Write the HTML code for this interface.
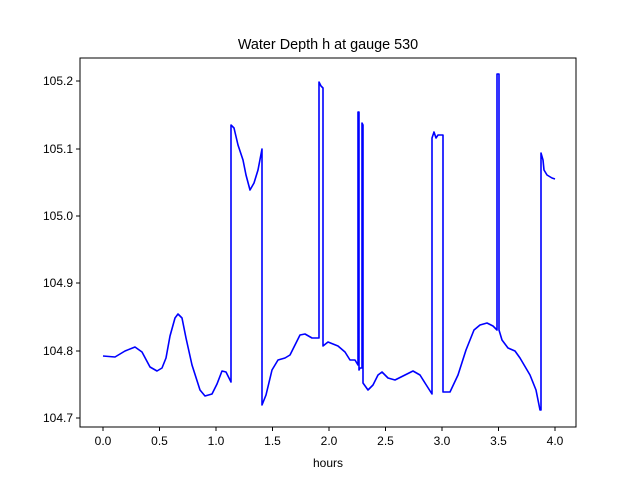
<!DOCTYPE html>
<html><head><style>body{margin:0;background:#fff}svg{display:block}text{font-family:"Liberation Sans","DejaVu Sans",sans-serif;fill:#000}</style></head>
<body>
<svg width="640" height="480" viewBox="0 0 640 480" xmlns="http://www.w3.org/2000/svg">
<rect width="640" height="480" fill="#fff"/>
<clipPath id="c"><rect x="80" y="58" width="496" height="369"/></clipPath>
<polyline clip-path="url(#c)" fill="none" stroke="#0000ff" stroke-width="1.6" stroke-linejoin="round" points="103,356 115,357 125,351 135,347 142,352 150,367 157,371 162,368 166,358 170,336 175,318 178,314 182,318 186,338 192,365 200,390 205,396 212,394 217,384 222,371 226,372 229,378 231,382 231,125 234,128 238,145 243,160 246,175 250,190 254,183 258,170 262,149 262,405 266,395 272,370 278,360 285,358 290,355 295,345 300,335 305,334 312,338 318,338 319,338 319,82 321,86 323,88 323,346 328,342 338,346 345,352 350,360 355,360 358,365 358,112 359,112 359,370 360,368 362,368 362,123 363,125 363,383 368,390 373,385 378,375 382,372 388,378 395,380 405,375 413,371 420,375 425,383 432,394 432,138 434,132 436,138 438,135 443,135 443,392 450,392 458,375 466,350 474,330 480,325 487,323 493,326 497,330 497,74 499,74 499,330 502,340 508,348 515,351 520,358 530,375 536,390 540,410 541,410 541,153 543,160 544,170 547,175 552,178 555,179"/>
<rect x="80" y="58" width="496" height="369" fill="none" stroke="#000" stroke-width="1"/>
<g stroke="#000" stroke-width="1">
<line x1="103" y1="427" x2="103" y2="431"/><line x1="216" y1="427" x2="216" y2="431"/><line x1="329" y1="427" x2="329" y2="431"/><line x1="442" y1="427" x2="442" y2="431"/><line x1="555" y1="427" x2="555" y2="431"/>
<line x1="76" y1="418" x2="80" y2="418"/><line x1="76" y1="351" x2="80" y2="351"/><line x1="76" y1="283" x2="80" y2="283"/><line x1="76" y1="216" x2="80" y2="216"/><line x1="76" y1="149" x2="80" y2="149"/><line x1="76" y1="81" x2="80" y2="81"/>
</g>
<g font-size="12" text-anchor="middle">
<text x="103" y="445">0.0</text><text x="159.5" y="445">0.5</text><text x="216" y="445">1.0</text><text x="272.5" y="445">1.5</text><text x="329" y="445">2.0</text><text x="385.5" y="445">2.5</text><text x="442" y="445">3.0</text><text x="498.5" y="445">3.5</text><text x="555" y="445">4.0</text>
<text x="328" y="467">hours</text>
</g>
<g stroke="#000" stroke-width="1">
<line x1="159.5" y1="427" x2="159.5" y2="431"/><line x1="272.5" y1="427" x2="272.5" y2="431"/><line x1="385.5" y1="427" x2="385.5" y2="431"/><line x1="498.5" y1="427" x2="498.5" y2="431"/>
</g>
<g font-size="12" text-anchor="end">
<text x="73" y="422">104.7</text><text x="73" y="355">104.8</text><text x="73" y="287">104.9</text><text x="73" y="220">105.0</text><text x="73" y="153">105.1</text><text x="73" y="85">105.2</text>
</g>
<text x="328" y="49" font-size="14.4" text-anchor="middle">Water Depth h at gauge 530</text>
</svg>
</body></html>
